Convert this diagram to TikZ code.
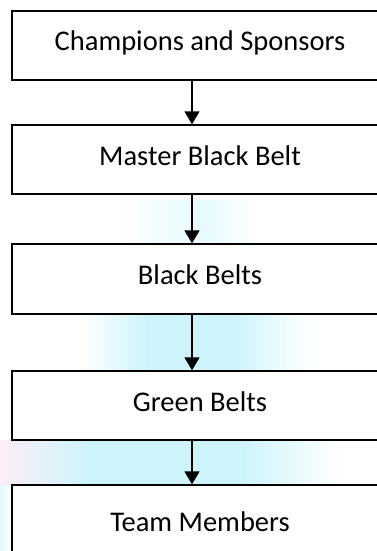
\documentclass[tikz,border=0pt]{standalone}
\usepackage{fontspec}
\setmainfont{Carlito}
\usetikzlibrary{arrows.meta}
\definecolor{haze}{RGB}{204,244,250}
\definecolor{hazepink}{RGB}{252,238,248}
\begin{document}
\begin{tikzpicture}[x=1pt,y=-1pt,
  stagebox/.style={draw=black,line width=1.3pt,fill=white,
    minimum width=376pt,inner sep=0pt,
    font=\fontsize{28.5pt}{34pt}\selectfont,
    text height=18.5pt,text depth=7.5pt},
  flow/.style={line width=1.3pt,-{Triangle[length=13pt,width=15pt]}}]
  \useasboundingbox (0,0) rectangle (377,551);
  \clip (0,0) rectangle (377,551);
  % soft tinted background showing between the boxes
  \fill[left color=white,right color=haze!50] (120,200) rectangle (200,244);
  \fill[left color=haze!50,right color=white] (200,200) rectangle (260,244);
  \fill[left color=white,right color=haze] (80,314) rectangle (150,371);
  \fill[haze] (150,314) rectangle (230,371);
  \fill[left color=haze,right color=white] (230,314) rectangle (310,371);
  \fill[left color=hazepink,right color=haze] (0,440) rectangle (90,485);
  \fill[haze] (90,440) rectangle (240,485);
  \fill[left color=haze,right color=white] (240,440) rectangle (340,485);
  \fill[left color=haze!60,right color=white] (0,485) rectangle (12,551);
  % boxes
  \node[stagebox,minimum height=69pt] (champ)  at (200,45.5)  {Champions and Sponsors};
  \node[stagebox,minimum height=69pt] (master) at (200,159.5) {Master Black Belt};
  \node[stagebox,minimum height=70pt] (black)  at (200,279)   {Black Belts};
  \node[stagebox,minimum height=69pt] (green)  at (200,405.5) {Green Belts};
  \node[stagebox,minimum height=81pt] (team)   at (200,525.5) {Team Members};
  % connectors
  \coordinate (ax) at (192,0);
  \draw[flow] (champ.south -| ax)  -- (master.north -| ax);
  \draw[flow] (master.south -| ax) -- (black.north -| ax);
  \draw[flow] (black.south -| ax)  -- (green.north -| ax);
  \draw[flow] (green.south -| ax)  -- (team.north -| ax);
\end{tikzpicture}
\end{document}
